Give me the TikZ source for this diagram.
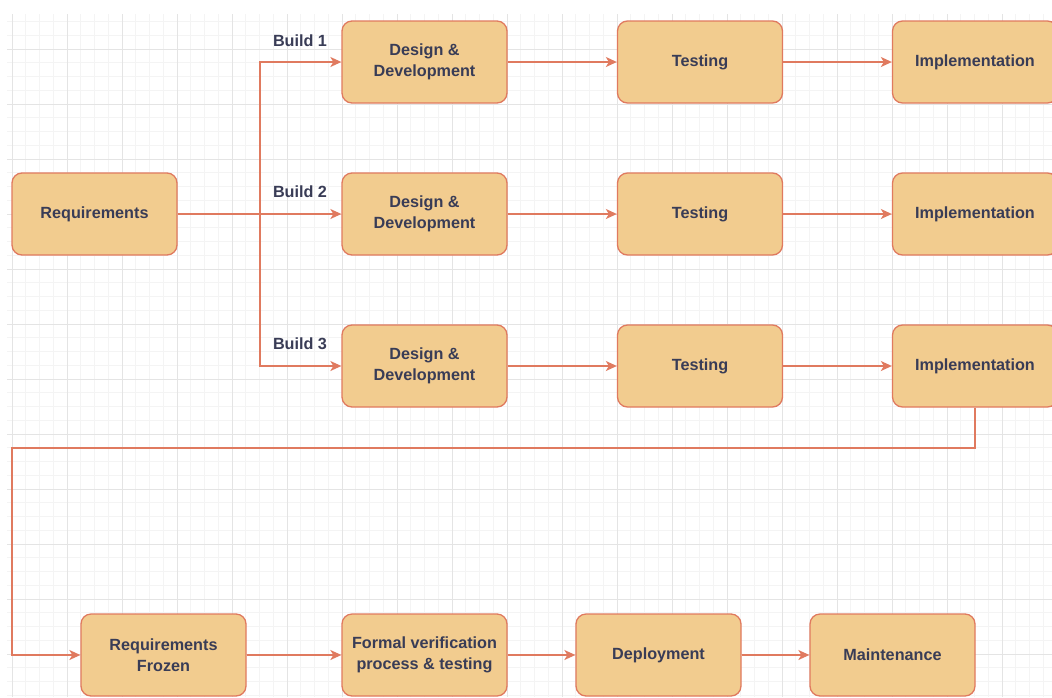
\documentclass[tikz,border=0pt]{standalone}
\usepackage{fontspec}
\setmainfont{Liberation Sans}
\usetikzlibrary{arrows.meta}
\definecolor{boxfill}{HTML}{F2CC8F}
\definecolor{boxline}{HTML}{E07A5F}
\definecolor{ink}{HTML}{393C56}
\definecolor{gridmajor}{HTML}{E4E4E4}
\definecolor{gridminor}{HTML}{F4F4F4}

\begin{document}
\begin{tikzpicture}[x=1pt,y=-1pt,
  stage/.style={draw=boxline, fill=boxfill, line width=1.3pt, rounded corners=10pt,
    minimum width=165pt, minimum height=82pt, inner sep=0pt, align=center,
    text=ink, font=\fontsize{16.2}{20.5}\selectfont\bfseries},
  link/.style={draw=boxline, line width=1.4pt},
  flow/.style={link, -{Stealth[length=11pt,width=10pt,inset=3pt]}},
  tag/.style={text=ink, inner sep=0pt, font=\fontsize{16.2}{20}\selectfont\bfseries},
  minorline/.style={draw=gridminor, line width=1pt},
  majorline/.style={draw=gridmajor, line width=1pt}
]
\clip (0,0) rectangle (1052,697);
\fill[white] (0,0) rectangle (1052,697);

% background grid: minor every 13.75, major every 55
\begin{scope}
  \clip (7,14) rectangle (1052,697);
  \foreach \k in {0,...,76} {
    \draw[minorline] ({12+13.75*\k},14) -- ({12+13.75*\k},697);
  }
  \foreach \k in {-2,...,47} {
    \draw[minorline] (7,{49+13.75*\k}) -- (1052,{49+13.75*\k});
  }
  \foreach \k in {0,...,19} {
    \draw[majorline] ({12+55*\k},14) -- ({12+55*\k},697);
  }
  \foreach \k in {0,...,11} {
    \draw[majorline] (7,{49+55*\k}) -- (1052,{49+55*\k});
  }
\end{scope}

% stages
\node[stage] (req)   at (94.5,214) {Requirements};

\node[stage] (dd1)   at (424.5,62)  {Design \&\\Development};
\node[stage] (test1) at (700,62)    {Testing};
\node[stage] (imp1)  at (975,62)    {Implementation};

\node[stage] (dd2)   at (424.5,214) {Design \&\\Development};
\node[stage] (test2) at (700,214)   {Testing};
\node[stage] (imp2)  at (975,214)   {Implementation};

\node[stage] (dd3)   at (424.5,366) {Design \&\\Development};
\node[stage] (test3) at (700,366)   {Testing};
\node[stage] (imp3)  at (975,366)   {Implementation};

\node[stage] (rf)    at (163.5,655) {Requirements\\Frozen};
\node[stage] (fv)    at (424.5,655) {Formal verification\\process \& testing};
\node[stage] (dep)   at (658.5,655) {Deployment};
\node[stage] (mnt)   at (892.5,655) {Maintenance};

% build labels
\node[tag] (b1) at (300,41)  {Build 1};
\node[tag] (b2) at (300,192) {Build 2};
\node[tag] (b3) at (300,344) {Build 3};

% fan-out to the three builds
\coordinate (split) at (260,214);
\draw[link] (req.east) -- (split);
\draw[flow] (split) |- (dd1.west);
\draw[flow] (split) -- (dd2.west);
\draw[flow] (split) |- (dd3.west);

% build pipelines
\foreach \r in {1,2,3} {
  \draw[flow] (dd\r.east) -- (test\r.west);
  \draw[flow] (test\r.east) -- (imp\r.west);
}

% return path to the final phase
\coordinate (turn) at (12,448);
\draw[flow] (imp3.south) |- (turn) |- (rf.west);

% final phase
\draw[flow] (rf.east) -- (fv.west);
\draw[flow] (fv.east) -- (dep.west);
\draw[flow] (dep.east) -- (mnt.west);
\end{tikzpicture}
\end{document}
